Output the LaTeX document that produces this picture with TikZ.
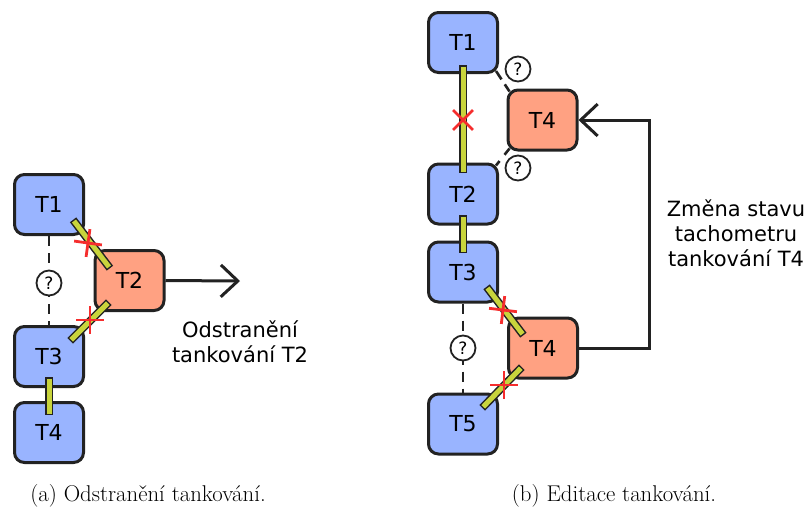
\documentclass[tikz,border=0pt]{standalone}
\usepackage{fontspec}
\newfontfamily\dvs{DejaVu Sans}
\usetikzlibrary{arrows.meta,calc}
\definecolor{boxblue}{RGB}{153,180,255}
\definecolor{boxorange}{RGB}{255,161,130}
\definecolor{barcol}{RGB}{200,212,60}
\definecolor{edgec}{RGB}{34,34,34}
\definecolor{xred}{RGB}{245,45,45}
\newcommand\tbar[2]{%
  \draw[edgec, line width=8pt, line cap=rect] (#1)--(#2);
  \draw[barcol, line width=5pt, line cap=rect] (#1)--(#2);}
\newcommand\xmk[2]{%
  \draw[xred, line width=2.8pt, shift={(#1)}, rotate=#2] (-14,0)--(14,0) (0,-14)--(0,14);}
\begin{document}
\begin{tikzpicture}[x=1pt,y=-1pt,
 tank/.style={draw=edgec, line width=3pt, rounded corners=10pt, minimum width=69pt,
   minimum height=60pt, inner sep=0pt, font=\dvs\fontsize{22}{26}\selectfont, fill=boxblue},
 sel/.style={tank, fill=boxorange},
 qm/.style={circle, draw=edgec, line width=1.8pt, fill=white, minimum size=25pt,
   inner sep=0pt, font=\dvs\fontsize{17}{20}\selectfont},
 dline/.style={draw=edgec, line width=2.6pt, dash pattern=on 10pt off 7pt},
 conn/.style={draw=edgec, line width=3pt},
 arr/.style={conn, -{Straight Barb[length=17pt,width=32pt,line width=3pt]}},
 lbl/.style={font=\dvs\fontsize{21}{25}\selectfont, align=center},
 captxt/.style={font=\fontsize{22.8}{27}\selectfont, anchor=base}
]
\useasboundingbox (0,0) rectangle (810,512);
\fill[white] (0,0) rectangle (810,512);

% ---------- panel (a) ----------
\node[tank] (a1) at (49,204.5) {T1};
\node[sel]  (a2) at (129.5,280.5) {T2};
\node[tank] (a3) at (49,356.5) {T3};
\node[tank] (a4) at (49,432.5) {T4};

\draw[dline] (a1.south) -- (a3.north);
\node[qm] (qa) at (49,283) {?};

\coordinate (b1s) at (75.5,223); \coordinate (b1e) at (107.5,265);
\coordinate (b2s) at (73,338);   \coordinate (b2e) at (106,305);
\coordinate (b3s) at (49,381);   \coordinate (b3e) at (49,411);
\tbar{b1s}{b1e}
\tbar{b2s}{b2e}
\tbar{b3s}{b3e}
\xmk{88,243}{-8}
\xmk{90,320}{0}

\coordinate (outA) at (240,281);
\draw[arr] (a2.east) -- (outA);
\node[lbl] (la) at (240,342) {Odstranění\\tankování T2};

% ---------- panel (b) ----------
\node[tank] (c1) at (463,42.5) {T1};
\node[sel]  (c4a) at (542.5,120) {T4};
\node[tank] (c2) at (463,194) {T2};
\node[tank] (c3) at (463,272) {T3};
\node[sel]  (c4b) at (543,348) {T4};
\node[tank] (c5) at (463,424) {T5};

\draw[dline, dash pattern=on 10pt off 6pt] ($(c1.south east)+(-3,-3)$) -- ($(c4a.north west)+(3,3)$);
\draw[dline, dash pattern=on 8pt off 8pt] ($(c4a.south west)+(3,-3)$) -- ($(c2.north east)+(-3,3)$);
\node[qm] (qb1) at (518,69) {?};
\node[qm] (qb2) at (518,168) {?};

\draw[dline] (c3.south) -- (c5.north);
\node[qm] (qb3) at (463,348) {?};

\coordinate (b4s) at (463,69);  \coordinate (b4e) at (463,169);
\coordinate (b5s) at (463,219); \coordinate (b5e) at (463,249);
\coordinate (b6s) at (489,290); \coordinate (b6e) at (521,332);
\coordinate (b7s) at (485,405); \coordinate (b7e) at (519,370);
\tbar{b4s}{b4e}
\tbar{b5s}{b5e}
\tbar{b6s}{b6e}
\tbar{b7s}{b7e}
\xmk{463,120}{45}
\xmk{503,310}{-7}
\xmk{504,385}{0}

\coordinate (loop) at (649,120);
\draw[arr] (c4b.east) -| (loop) -- (c4a.east);
\node[lbl] (lb) at (736,233) {Změna stavu\\tachometru\\tankování T4};

% ---------- captions ----------
\node[captxt] (capa) at (148,501) {(a) Odstranění tankování.};
\node[captxt] (capb) at (614,501) {(b) Editace tankování.};
\end{tikzpicture}
\end{document}
